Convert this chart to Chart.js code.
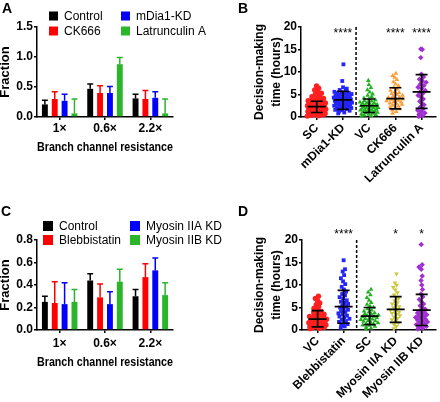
<!DOCTYPE html>
<html>
<head>
<meta charset="utf-8">
<script src="https://cdn.jsdelivr.net/npm/chart.js@4.4.0/dist/chart.umd.min.js"></script>
<style>
  body { margin: 0; background: #fff; width: 440px; height: 402px; position: relative; overflow: hidden;
         font-family: "Liberation Sans", Arial, sans-serif; }
  canvas { position: absolute; }
  .lbl { position: absolute; font-weight: bold; font-size: 14px; line-height: 14px; }
</style>
</head>
<body>
<canvas id="chartA" width="230" height="201" style="left:0;top:0"></canvas>
<canvas id="chartC" width="230" height="201" style="left:0;top:201px"></canvas>
<canvas id="chartB" width="220" height="201" style="left:220px;top:0"></canvas>
<canvas id="chartD" width="220" height="201" style="left:220px;top:201px"></canvas>
<div class="lbl" style="left:2px;top:1px">A</div>
<div class="lbl" style="left:238px;top:1px">B</div>
<div class="lbl" style="left:1px;top:204px">C</div>
<div class="lbl" style="left:238px;top:204px">D</div>
<script>
// ---- data ----
const resistance = ["1×", "0.6×", "2.2×"];

// panel A (bar height, top of error bar)
const groupsA = ["Control", "CK666", "mDia1-KD", "Latrunculin A"];
const controlA = [0.21, 0.47, 0.31];
const ck666A = [0.30, 0.40, 0.30];
const mdia1A = [0.27, 0.40, 0.32];
const latA = [0.06, 0.88, 0.06];
const controlAErr = [0.28, 0.55, 0.38];
const ck666AErr = [0.42, 0.52, 0.44];
const mdia1AErr = [0.38, 0.51, 0.42];
const latAErr = [0.30, 0.99, 0.30];

// panel C
const groupsC = ["Control", "Blebbistatin", "Myosin IIA KD", "Myosin IIB KD"];
const controlC = [0.25, 0.44, 0.30];
const blebC = [0.24, 0.29, 0.47];
const myo2aC = [0.23, 0.23, 0.53];
const myo2bC = [0.25, 0.43, 0.31];
const controlCErr = [0.30, 0.50, 0.36];
const blebCErr = [0.43, 0.41, 0.59];
const myo2aCErr = [0.42, 0.34, 0.64];
const myo2bCErr = [0.36, 0.54, 0.42];

// panel B (decision-making time, hours)
const namesB = ["SC", "mDia1-KD", "VC", "CK666", "Latrunculin A"];
const scB = [0.2,0.3,0.4,0.5,0.5,0.6,0.7,0.8,0.8,0.9,1.0,1.0,1.1,1.2,1.2,1.3,1.4,1.4,1.5,1.5,1.6,1.7,1.7,1.8,1.9,1.9,2.0,2.0,2.1,2.2,2.2,2.3,2.4,2.4,2.5,2.6,2.6,2.7,2.8,2.9,3.0,3.0,3.1,3.2,3.3,3.4,3.5,3.6,3.8,3.9,4.1,4.3,4.5,4.8,5.0,5.3,5.6,6.0,6.4,6.9];
const mdia1B = [0.8,1.0,1.2,1.4,1.5,1.6,1.8,1.9,2.0,2.1,2.2,2.3,2.4,2.5,2.6,2.7,2.8,2.9,3.0,3.0,3.1,3.2,3.3,3.4,3.5,3.5,3.6,3.7,3.8,3.9,4.0,4.0,4.1,4.2,4.3,4.4,4.5,4.6,4.7,4.8,4.9,5.0,5.1,5.2,5.3,5.4,5.5,5.6,5.8,6.0,6.3,6.6,8.0,11.7];
const vcB = [0.2,0.3,0.4,0.5,0.6,0.7,0.8,0.9,1.0,1.1,1.2,1.3,1.4,1.5,1.5,1.6,1.7,1.8,1.9,2.0,2.0,2.1,2.2,2.3,2.4,2.5,2.5,2.6,2.7,2.8,2.9,3.0,3.1,3.2,3.3,3.5,3.6,3.8,4.0,4.2,4.5,4.8,5.1,5.5,6.0,6.5,7.2,8.1];
const ck666B = [0.8,1.2,1.5,1.8,2.0,2.2,2.4,2.6,2.8,3.0,3.1,3.3,3.4,3.6,3.7,3.9,4.0,4.1,4.3,4.4,4.6,4.8,5.0,5.2,5.4,5.6,5.9,6.2,6.5,6.9,7.3,7.8,8.3,8.8,9.2,9.7];
const latB = [0.1,0.3,0.6,0.9,1.2,1.5,1.8,2.2,2.7,3.0,3.5,4.0,4.4,4.8,5.2,5.5,5.9,6.3,6.6,7.0,7.3,7.7,8.0,8.4,8.9,9.5,13.2,15.0,15.1];
const meanB = [2.3, 3.8, 2.5, 4.1, 5.6];
const lowB = [1.0, 1.7, 1.0, 1.8, 1.9];
const highB = [3.5, 5.7, 4.0, 6.5, 9.4];
const starsB = ["", "****", "", "****", "****"];

// panel D
const namesD = ["VC", "Blebbistatin", "SC", "Myosin IIA KD", "Myosin IIB KD"];
const vcD = [0.3,0.4,0.5,0.6,0.7,0.8,0.9,1.0,1.1,1.2,1.3,1.4,1.5,1.6,1.7,1.8,1.9,2.0,2.1,2.2,2.3,2.4,2.5,2.6,2.7,2.8,3.0,3.1,3.3,3.5,3.7,3.9,4.2,4.5,4.8,5.2,5.6,6.0,6.5,7.0,7.5];
const blebD = [0.5,0.8,1.0,1.3,1.5,1.8,2.0,2.3,2.5,2.8,3.0,3.2,3.5,3.7,4.0,4.2,4.5,4.7,5.0,5.2,5.5,5.8,6.0,6.3,6.6,7.0,7.3,7.7,8.0,8.5,9.0,9.6,10.2,10.8,11.5,12.2,13.0,13.5,15.5];
const scD = [0.2,0.4,0.6,0.8,1.0,1.1,1.3,1.4,1.6,1.7,1.9,2.0,2.1,2.3,2.4,2.5,2.7,2.8,2.9,3.0,3.2,3.3,3.5,3.6,3.8,4.0,4.2,4.4,4.7,5.0,5.3,5.7,6.1,6.6,7.2,7.8,8.4,9.0];
const myo2aD = [0.3,0.8,1.2,1.6,2.0,2.3,2.6,2.9,3.2,3.5,3.7,4.0,4.2,4.4,4.7,5.0,5.2,5.5,5.8,6.1,6.5,6.9,7.3,7.8,8.3,8.9,9.5,10.0,10.5,12.5];
const myo2bD = [0.2,0.4,0.6,0.8,1.0,1.2,1.4,1.6,1.8,2.0,2.2,2.4,2.6,2.8,3.0,3.2,3.4,3.6,3.8,4.0,4.3,4.6,5.0,5.4,5.8,6.3,6.8,7.4,8.0,9.0,10.0,11.0,12.0,13.5,14.0,14.5,19.0];
const meanD = [2.4, 5.2, 3.1, 4.6, 4.4];
const lowD = [0.7, 1.5, 1.2, 1.7, 1.0];
const highD = [4.3, 8.8, 5.0, 7.4, 7.9];
const starsD = ["", "****", "", "*", "*"];

// ---- styling ----
const FONT = '"Liberation Sans", Arial, sans-serif';
Chart.defaults.font.family = FONT;
Chart.defaults.color = "#000";

const barColors = ["#000000", "#ff0000", "#0000ff", "#2bb52b"];
const dotColorsB = ["#ff2020", "#2424ff", "#22b022", "#ff9c35", "#a02ed2"];
const dotColorsD = ["#ff2020", "#2424ff", "#22b022", "#c8c83a", "#a02ed2"];
const dotShapes = ["circle", "rect", "triangle", "triangle", "rectRot"];
const shapeRotB = [0, 0, 0, 0, 0];
const shapeRotD = [0, 0, 0, 180, 0];

const axisBorder = { color: "#000", width: 1.5 };
const tickGrid = { drawOnChartArea: false, color: "#000", lineWidth: 1.5, tickLength: 3 };
const boldFont = { weight: "bold", size: 12 };

// error whiskers on top of bars, in bar colour
function barErrors(errs) {
  return {
    id: "barErrors",
    afterDatasetsDraw(chart) {
      const ctx = chart.ctx, y = chart.scales.y;
      chart.data.datasets.forEach((ds, i) => {
        chart.getDatasetMeta(i).data.forEach((bar, j) => {
          const top = y.getPixelForValue(errs[i][j]);
          ctx.save();
          ctx.strokeStyle = ds.backgroundColor;
          ctx.lineWidth = 1.5;
          ctx.beginPath();
          ctx.moveTo(bar.x, bar.y);
          ctx.lineTo(bar.x, top);
          ctx.moveTo(bar.x - bar.width / 2, top);
          ctx.lineTo(bar.x + bar.width / 2, top);
          ctx.stroke();
          ctx.restore();
        });
      });
    }
  };
}

// 2 x 2 legend, filled column by column
function legendGrid(names, colors, L) {
  return {
    id: "legendGrid",
    afterDraw(chart) {
      const ctx = chart.ctx;
      ctx.save();
      ctx.font = "12px " + FONT;
      ctx.textBaseline = "middle";
      names.forEach((n, i) => {
        const bx = L.x[Math.floor(i / 2)], cy = L.y[i % 2];
        ctx.fillStyle = colors[i];
        ctx.fillRect(bx, cy - L.box / 2, L.box, L.box);
        ctx.fillStyle = "#000";
        ctx.fillText(n, bx + L.gap, cy + 0.5);
      });
      ctx.restore();
    }
  };
}

function barPanel(id, names, values, errs, cfg) {
  return new Chart(document.getElementById(id), {
    type: "bar",
    data: {
      labels: resistance,
      datasets: names.map((n, i) => ({
        label: n,
        data: values[i],
        backgroundColor: barColors[i],
        categoryPercentage: 0.87,
        barPercentage: 0.6
      }))
    },
    options: {
      responsive: false,
      animation: false,
      layout: { padding: { top: cfg.top, right: cfg.right, left: 0, bottom: 0 } },
      plugins: { legend: { display: false }, tooltip: { enabled: false } },
      scales: {
        x: {
          grid: Object.assign({ offset: false }, tickGrid),
          border: axisBorder,
          ticks: { color: "#000", font: boldFont, padding: cfg.xPad },
          title: { display: true, text: "Branch channel resistance", color: "#000",
                   font: boldFont, padding: { bottom: cfg.titlePad } },
          afterFit: s => { s.height = cfg.xh; }
        },
        y: {
          min: 0, max: cfg.max,
          ticks: { stepSize: cfg.step, callback: v => v.toFixed(1), color: "#000", font: boldFont, padding: 1 },
          grid: tickGrid,
          border: axisBorder,
          title: { display: true, text: "Fraction", color: "#000",
                   font: { weight: "bold", size: 13 }, padding: { top: -2 } },
          afterFit: s => { s.width = 37; }
        }
      }
    },
    plugins: [barErrors(errs), legendGrid(names, barColors, cfg.legend)]
  });
}

// horizontal spread of the dots, wider where the values are crowded
function spread(vals, halfMax) {
  return vals.map((v, i) => {
    const near = vals.filter(w => Math.abs(w - v) < 0.75).length;
    const half = halfMax * Math.min(1, near / 10);
    return (((i * 0.6180339) % 1) * 2 - 1) * half;
  });
}

// mean +/- SD bars, dashed divider and significance stars
function meanSd(means, lows, highs, stars, divider, starDy) {
  return {
    id: "meanSd",
    afterDatasetsDraw(chart) {
      const { ctx, chartArea } = chart, x = chart.scales.x, y = chart.scales.y;
      ctx.save();
      ctx.strokeStyle = "#000";
      ctx.lineWidth = 1.7;
      means.forEach((m, i) => {
        const cx = x.getPixelForValue(i);
        const yl = y.getPixelForValue(lows[i]), yh = y.getPixelForValue(highs[i]), ym = y.getPixelForValue(m);
        ctx.beginPath();
        ctx.moveTo(cx, yl); ctx.lineTo(cx, yh);
        ctx.moveTo(cx - 6, yl); ctx.lineTo(cx + 6, yl);
        ctx.moveTo(cx - 6, yh); ctx.lineTo(cx + 6, yh);
        ctx.moveTo(cx - 9, ym); ctx.lineTo(cx + 9, ym);
        ctx.stroke();
      });
      const dx = x.getPixelForValue(divider);
      ctx.lineWidth = 1.5;
      ctx.setLineDash([3, 2]);
      ctx.beginPath();
      ctx.moveTo(dx, chartArea.top);
      ctx.lineTo(dx, chartArea.bottom);
      ctx.stroke();
      ctx.setLineDash([]);
      ctx.fillStyle = "#000";
      ctx.font = "12px " + FONT;
      ctx.textAlign = "center";
      ctx.textBaseline = "alphabetic";
      stars.forEach((s, i) => { if (s) ctx.fillText(s, x.getPixelForValue(i), chartArea.top + starDy); });
      ctx.restore();
    }
  };
}

function dotPanel(id, names, groups, colors, rots, means, lows, highs, stars, cfg) {
  return new Chart(document.getElementById(id), {
    type: "scatter",
    data: {
      datasets: groups.map((vals, g) => {
        const dx = spread(vals, 0.36);
        return {
          label: names[g],
          data: vals.map((v, i) => ({ x: g + dx[i], y: v })),
          backgroundColor: colors[g],
          borderWidth: 0,
          pointStyle: dotShapes[g],
          pointRotation: rots[g],
          pointRadius: 2.7,
          clip: false
        };
      })
    },
    options: {
      responsive: false,
      animation: false,
      layout: { padding: { top: cfg.top, right: 2, left: 0, bottom: 0 } },
      plugins: { legend: { display: false }, tooltip: { enabled: false } },
      scales: {
        x: {
          type: "linear", min: -0.6, max: 4.55,
          afterBuildTicks: s => { s.ticks = names.map((n, i) => ({ value: i })); },
          ticks: { autoSkip: false, minRotation: 45, maxRotation: 45, callback: v => names[v],
                   color: "#000", font: boldFont, padding: 1 },
          grid: tickGrid,
          border: axisBorder,
          afterFit: s => { s.height = cfg.xh; }
        },
        y: {
          min: 0, max: 20,
          ticks: { stepSize: 5, color: "#000", font: boldFont, padding: 1 },
          grid: tickGrid,
          border: axisBorder,
          title: { display: true, text: ["Decision-making", "time (hours)"], color: "#000",
                   font: { weight: "bold", size: 12, lineHeight: 1.42 }, padding: { top: 31.5 } },
          afterFit: s => { s.width = cfg.yw; }
        }
      }
    },
    plugins: [meanSd(means, lows, highs, stars, 1.5, cfg.starDy)]
  });
}

barPanel("chartA", groupsA, [controlA, ck666A, mdia1A, latA],
  [controlAErr, ck666AErr, mdia1AErr, latAErr],
  { top: 27, right: 57, xh: 84, titlePad: 45.8, xPad: 1, max: 1.5, step: 0.5,
    legend: { x: [49, 121], y: [16, 31], box: 9, gap: 15 } });

barPanel("chartC", groupsC, [controlC, blebC, myo2aC, myo2bC],
  [controlCErr, blebCErr, myo2aCErr, myo2bCErr],
  { top: 39, right: 57, xh: 72, titlePad: 31.8, xPad: 3, max: 0.8, step: 0.2,
    legend: { x: [43, 130], y: [25, 39], box: 10, gap: 16 } });

dotPanel("chartB", namesB, [scB, mdia1B, vcB, ck666B, latB], dotColorsB, shapeRotB,
  meanB, lowB, highB, starsB, { top: 27, xh: 84, yw: 81, starDy: 10 });

dotPanel("chartD", namesD, [vcD, blebD, scD, myo2aD, myo2bD], dotColorsD, shapeRotD,
  meanD, lowD, highD, starsD, { top: 39, xh: 72, yw: 82, starDy: -2 });
</script>
</body>
</html>
